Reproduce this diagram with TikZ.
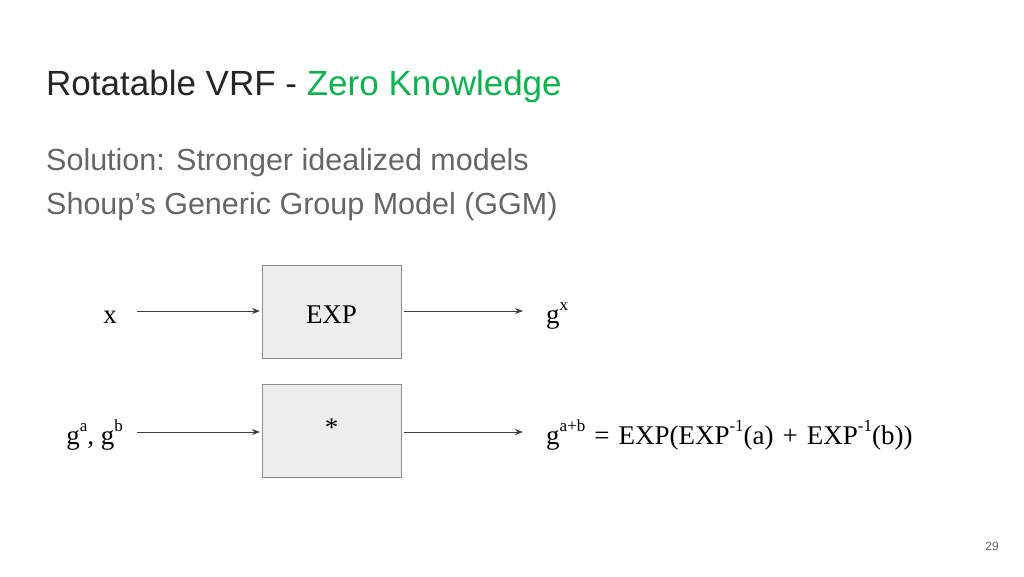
\documentclass[tikz,border=0pt]{standalone}
\usepackage{fontspec}
\setmainfont{Liberation Serif}
\newfontfamily\hel{Liberation Sans}
\usetikzlibrary{arrows.meta}
\definecolor{zk}{HTML}{0CB24F}
\definecolor{sub}{HTML}{666666}
\newcommand{\sps}[1]{\raisebox{0.45em}{\fontsize{17}{18}\selectfont #1}}
\tikzset{
  blk/.style={draw=black!45,fill=black!7,minimum width=139pt,minimum height=93pt,inner sep=0pt},
  lab/.style={font=\fontsize{27}{30}\selectfont,inner sep=0pt},
  con/.style={-{Stealth[length=8pt,width=6pt]},black!75,line width=0.9pt}
}
\begin{document}
\begin{tikzpicture}[x=1pt,y=-1pt]
\useasboundingbox (0,0) rectangle (1024,576);
\node[anchor=base west,inner sep=0pt,font=\hel\fontsize{35}{38}\selectfont,text=black!85] (title) at (46,95) {Rotatable VRF - \textcolor{zk}{Zero Knowledge}};
\node[anchor=base west,inner sep=0pt,font=\hel\fontsize{30.5}{33}\selectfont,text=sub] (s1) at (46,170) {Solution: Stronger idealized models};
\node[anchor=base west,inner sep=0pt,font=\hel\fontsize{30.5}{33}\selectfont,text=sub] (s2) at (46,214) {Shoup’s Generic Group Model (GGM)};
\node[blk] (exp) at (331.5,311.5) {};
\node[lab] (expt) at (331.5,315) {EXP};
\node[blk] (mul) at (331.5,431) {};
\node[lab] (mult) at (331.5,428) {*};
\node[lab,anchor=base] (x) at (110,323) {x};
\node[lab,anchor=base west] (gx) at (546,323) {g\sps{x}};
\node[lab,anchor=base east] (gab) at (123,444) {g\sps{a}, g\sps{b}};
\node[lab,anchor=base west] (res) at (546,444) {g\sps{a+b}\,\,=\,\,EXP(EXP\sps{-1}(a)\,\,+\,\,EXP\sps{-1}(b))};
\coordinate (a1) at (137,311); \coordinate (a2) at (260,311);
\coordinate (a3) at (404,311); \coordinate (a4) at (523,311);
\coordinate (b1) at (137,432); \coordinate (b2) at (260,432);
\coordinate (b3) at (404,432); \coordinate (b4) at (523,432);
\draw[con] (a1) -- (a2); \draw[con] (a3) -- (a4);
\draw[con] (b1) -- (b2); \draw[con] (b3) -- (b4);
\node[anchor=base,font=\hel\fontsize{12}{14}\selectfont,text=sub] (pg) at (992,550) {29};
\end{tikzpicture}
\end{document}
